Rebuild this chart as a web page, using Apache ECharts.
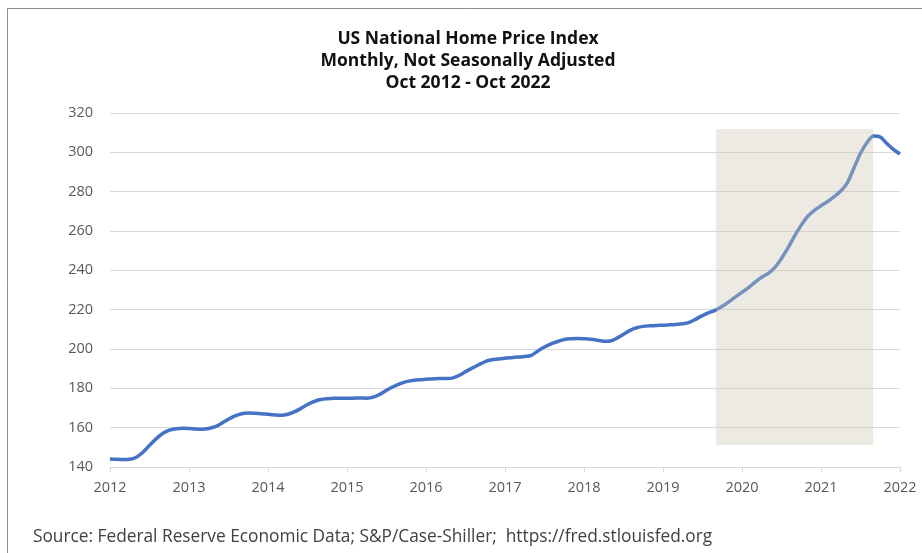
<!DOCTYPE html>
<html>
<head>
<meta charset="utf-8">
<script src="https://cdn.jsdelivr.net/npm/echarts@6/dist/echarts.min.js"></script>
<style>
  html, body { margin: 0; padding: 0; background: #fff; }
  #chart { width: 922px; height: 553px; }
</style>
</head>
<body>
<div id="chart"></div>
<script>
// titles / source
const titleLines = [
  "US National Home Price Index",
  "Monthly, Not Seasonally Adjusted",
  "Oct 2012 - Oct 2022"
];
const sourceText = "Source: Federal Reserve Economic Data; S&P/Case-Shiller;  https://fred.stlouisfed.org";

// monthly index values, first point = start of 2012 on the axis
const startYear = 2012;
const hpi = [
  144.1, 143.9, 143.8, 143.9, 145.0, 147.5, 151.0, 154.3, 157.0, 158.7, 159.5, 159.7,
  159.6, 159.3, 159.2, 159.6, 160.5, 162.3, 164.3, 166.0, 167.1, 167.4, 167.3, 167.1,
  166.8, 166.5, 166.3, 166.8, 168.0, 169.8, 171.8, 173.3, 174.3, 174.7, 174.9, 174.9,
  174.9, 175.0, 175.1, 175.0, 175.5, 177.0, 179.0, 180.8, 182.3, 183.4, 184.0, 184.4,
  184.6, 184.8, 185.0, 185.0, 185.2, 186.5, 188.5, 190.3, 192.0, 193.6, 194.5, 194.9,
  195.3, 195.6, 195.9, 196.2, 196.8, 199.0, 201.0, 202.6, 203.8, 204.8, 205.2, 205.3,
  205.2, 205.0, 204.5, 204.0, 204.1, 205.5, 207.5, 209.5, 210.8, 211.5, 211.8, 212.0,
  212.1, 212.3, 212.5, 212.8, 213.5, 215.2, 217.0, 218.5, 219.8, 221.7, 224.0, 226.5,
  228.8, 231.2, 234.0, 236.5, 238.5, 241.5, 246.0, 251.5, 257.5, 263.0, 267.5, 270.5,
  272.8, 275.0, 277.5, 280.3, 284.5, 292.0, 299.5, 305.0, 308.3, 307.8, 304.5, 301.5,
  299.2
];

// shaded period (x in years, y in index units)
const shadeX = [2019.67, 2021.66];
const shadeY = [151.2, 311.9];

const yMin = 140, yMax = 320, yStep = 20;
const xMin = 2012, xMax = 2022;

const chart = echarts.init(document.getElementById('chart'));

const lineData = hpi.map((v, i) => [startYear + i / 12, v]);

const option = {
  backgroundColor: '#fff',
  animation: false,
  title: {
    text: sourceText,
    left: 33,
    top: 529,
    padding: 0,
    textStyle: {
      fontFamily: 'Open Sans',
      fontWeight: 'normal',
      fontSize: 17.3,
      color: '#404040'
    }
  },
  graphic: [
    {
      type: 'rect',
      shape: { x: 7.5, y: 8.5, width: 940, height: 580 },
      style: { fill: 'none', stroke: '#8c8c8c', lineWidth: 1 },
      silent: true
    },
    {
      type: 'text',
      x: 468,
      y: 28,
      silent: true,
      style: {
        text: titleLines.join('\n'),
        fontFamily: 'Open Sans',
        fontWeight: 700,
        fontSize: 17.5,
        lineHeight: 22,
        fill: '#111',
        textAlign: 'center',
        textVerticalAlign: 'top'
      }
    }
  ],
  grid: {
    left: 110,
    right: 22,
    top: 113,
    bottom: 86,
    containLabel: false
  },
  xAxis: {
    type: 'value',
    min: xMin,
    max: xMax,
    interval: 1,
    axisLine: { show: true, lineStyle: { color: '#d9d9d9', width: 1 } },
    axisTick: { show: true, length: 5, lineStyle: { color: '#d9d9d9' } },
    splitLine: { show: false },
    axisLabel: {
      margin: 13,
      fontFamily: 'Open Sans',
      fontSize: 14.5,
      color: '#595959',
      formatter: v => String(v)
    }
  },
  yAxis: {
    type: 'value',
    min: yMin,
    max: yMax,
    interval: yStep,
    axisLine: { show: false },
    axisTick: { show: false },
    splitLine: { show: true, lineStyle: { color: '#d9d9d9', width: 1 } },
    axisLabel: {
      margin: 17,
      fontFamily: 'Open Sans',
      fontSize: 14.5,
      color: '#595959'
    }
  },
  series: [
    {
      name: 'HPI',
      type: 'line',
      data: lineData,
      showSymbol: false,
      smooth: 0.3,
      lineStyle: { color: '#4472c4', width: 3.5 },
      z: 2,
      markArea: {
        silent: true,
        z: 3,
        itemStyle: { color: 'rgba(205, 200, 182, 0.38)' },
        data: [[
          { coord: [shadeX[0], shadeY[1]] },
          { coord: [shadeX[1], shadeY[0]] }
        ]]
      }
    }
  ]
};

chart.setOption(option);
</script>
</body>
</html>
